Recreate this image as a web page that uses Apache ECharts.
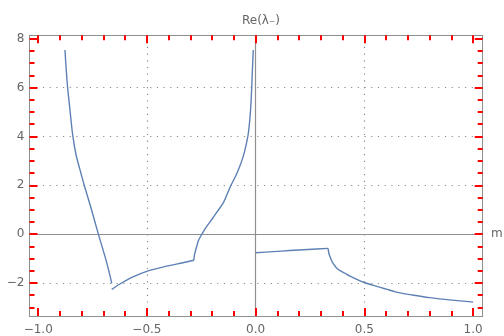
<!DOCTYPE html>
<html>
<head>
<meta charset="utf-8">
<script src="https://cdn.jsdelivr.net/npm/echarts@6/dist/echarts.min.js"></script>
<style>
html,body{margin:0;padding:0;background:#fff;}
#chart{width:504px;height:336px;}
</style>
</head>
<body>
<div id="chart"></div>
<script>
// ---- data ----
const branchA_m  = [-0.877,-0.871,-0.865,-0.854,-0.841,-0.826,-0.808,-0.788,-0.755,-0.723,-0.693,-0.677,-0.668,-0.662];
const branchA_re = [7.54,6.72,6.03,5.09,4.03,3.25,2.64,1.99,1.01,-0.01,-0.91,-1.44,-1.77,-2.01];

const branchB_m  = [-0.662,-0.626,-0.564,-0.498,-0.411,-0.334,-0.284];
const branchB_re = [-2.26,-2.05,-1.75,-1.51,-1.31,-1.17,-1.07];

const branchC_m  = [-0.284,-0.282,-0.271,-0.263,-0.248,-0.229,-0.202,-0.176,-0.149,-0.132,-0.114,-0.093,-0.077,-0.062,-0.050,-0.041,-0.034,-0.027,-0.022,-0.018,-0.015,-0.011];
const branchC_re = [-1.07,-0.87,-0.50,-0.26,-0.01,0.27,0.60,0.93,1.28,1.62,1.99,2.36,2.69,3.05,3.42,3.78,4.11,4.68,5.29,6.03,6.72,7.54];

const branchD_m  = [0.0,0.08,0.156,0.24,0.333];
const branchD_re = [-0.76,-0.715,-0.67,-0.625,-0.58];

const branchE_m  = [0.333,0.335,0.338,0.343,0.350,0.360,0.371,0.386,0.41,0.432,0.465,0.50,0.55,0.60,0.647,0.72,0.80,0.90,1.0];
const branchE_re = [-0.58,-0.7,-0.82,-0.95,-1.1,-1.25,-1.37,-1.48,-1.6,-1.71,-1.85,-1.98,-2.12,-2.25,-2.37,-2.49,-2.60,-2.70,-2.78];

const xMajorTicks = [-1.0,-0.5,0.0,0.5,1.0];
const xMinorTicks = [-0.9,-0.8,-0.7,-0.6,-0.4,-0.3,-0.2,-0.1,0.1,0.2,0.3,0.4,0.6,0.7,0.8,0.9];
const yMajorTicks = [-2,0,2,4,6,8];
const yMinorTicks = [-3,-2.5,-1.5,-1,-0.5,0.5,1,1.5,2.5,3,3.5,4.5,5,5.5,6.5,7,7.5];

const xGridLines = [-0.5,0.5];
const yGridLines = [-2,2,4,6];

const X_MIN = -1.040, X_MAX = 1.044;
const Y_MIN = -3.35, Y_MAX = 8.14;

const titleText = 'Re(λ₋)';
const xAxisName = 'm';

// ---- build ----
const pairs = (xs, ys) => xs.map((x, i) => [x, ys[i]]);
const CURVE = '#5E81B5';
const FRAME = '#8f8f8f';
const LABEL = '#666666';
const FONT = 'DejaVu Sans';

const gridBox = {left: 29.5, right: 21.3, top: 35.3, bottom: 19.3};
const plotW = 504 - gridBox.left - gridBox.right;
const plotH = 336 - gridBox.top - gridBox.bottom;
const pxX = (X_MAX - X_MIN) / plotW;
const pxY = (Y_MAX - Y_MIN) / plotH;
const MAJOR_LEN = 8, MINOR_LEN = 5;

function xTickSegs(vals, len) {
  const segs = [];
  vals.forEach(v => {
    segs.push([{coord: [v, Y_MIN]}, {coord: [v, Y_MIN + len * pxY]}]);
    segs.push([{coord: [v, Y_MAX]}, {coord: [v, Y_MAX - len * pxY]}]);
  });
  return segs;
}
function yTickSegs(vals, len) {
  const segs = [];
  vals.forEach(v => {
    segs.push([{coord: [X_MIN, v]}, {coord: [X_MIN + len * pxX, v]}]);
    segs.push([{coord: [X_MAX, v]}, {coord: [X_MAX - len * pxX, v]}]);
  });
  return segs;
}

const lineSeries = (name, xs, ys, extra) => Object.assign({
  name, type: 'line', xAxisIndex: 0, yAxisIndex: 0, data: pairs(xs, ys),
  showSymbol: false, symbol: 'none', smooth: 0.3, clip: true,
  lineStyle: {color: CURVE, width: 1.4}, z: 5, silent: true, animation: false
}, extra || {});

const baseAxis = {
  type: 'value', gridIndex: 0,
  axisLine: {show: true, onZero: false, lineStyle: {color: FRAME}},
  splitLine: {show: false},
  axisTick: {show: false}
};

const option = {
  animation: false,
  backgroundColor: '#ffffff',
  title: {
    text: titleText, left: 256, top: 10, textAlign: 'center',
    textStyle: {color: LABEL, fontFamily: FONT, fontSize: 12, fontWeight: 'normal'}
  },
  graphic: [{
    type: 'text', left: 491, top: 228,
    style: {text: xAxisName, fill: LABEL, font: '12px "DejaVu Sans"'}
  }],
  grid: [Object.assign({}, gridBox)],
  xAxis: [
    Object.assign({}, baseAxis, {position: 'bottom', min: X_MIN, max: X_MAX,
      axisLabel: {show: true, customValues: xMajorTicks, margin: 8, color: LABEL, fontFamily: FONT, fontSize: 12,
        formatter: v => v.toFixed(1).replace('-', '\u2212')}}),
    Object.assign({}, baseAxis, {position: 'top', min: X_MIN, max: X_MAX, axisLabel: {show: false}})
  ],
  yAxis: [
    Object.assign({}, baseAxis, {position: 'left', min: Y_MIN, max: Y_MAX,
      axisLabel: {show: true, customValues: yMajorTicks, margin: 5, color: LABEL, fontFamily: FONT, fontSize: 12,
        formatter: v => String(v).replace('-', '\u2212')}}),
    Object.assign({}, baseAxis, {position: 'right', min: Y_MIN, max: Y_MAX, axisLabel: {show: false}})
  ],
  series: [
    lineSeries('grid', [], [], {
      z: 1,
      markLine: {
        silent: true, symbol: 'none', animation: false,
        label: {show: false},
        lineStyle: {type: [1.2, 5.5], color: '#8a8a8a', width: 1.2},
        data: xGridLines.map(v => ({xAxis: v})).concat(yGridLines.map(v => ({yAxis: v})))
      }
    }),
    lineSeries('axes', [], [], {
      z: 2,
      markLine: {
        silent: true, symbol: 'none', animation: false,
        label: {show: false},
        lineStyle: {type: 'solid', color: FRAME, width: 1.2},
        data: [{xAxis: 0}, {yAxis: 0}]
      }
    }),
    lineSeries('ticks', [], [], {
      z: 3, clip: false,
      markLine: {
        silent: true, symbol: 'none', animation: false,
        label: {show: false},
        lineStyle: {type: 'solid', color: 'red', width: 2},
        data: xTickSegs(xMajorTicks, MAJOR_LEN)
          .concat(xTickSegs(xMinorTicks, MINOR_LEN))
          .concat(yTickSegs(yMajorTicks, MAJOR_LEN))
          .concat(yTickSegs(yMinorTicks, MINOR_LEN))
      }
    }),
    lineSeries('A', branchA_m, branchA_re),
    lineSeries('B', branchB_m, branchB_re),
    lineSeries('C', branchC_m, branchC_re),
    lineSeries('D', branchD_m, branchD_re),
    lineSeries('E', branchE_m, branchE_re)
  ]
};

const chart = echarts.init(document.getElementById('chart'), null, {renderer: 'canvas'});
chart.setOption(option);
</script>
</body>
</html>
